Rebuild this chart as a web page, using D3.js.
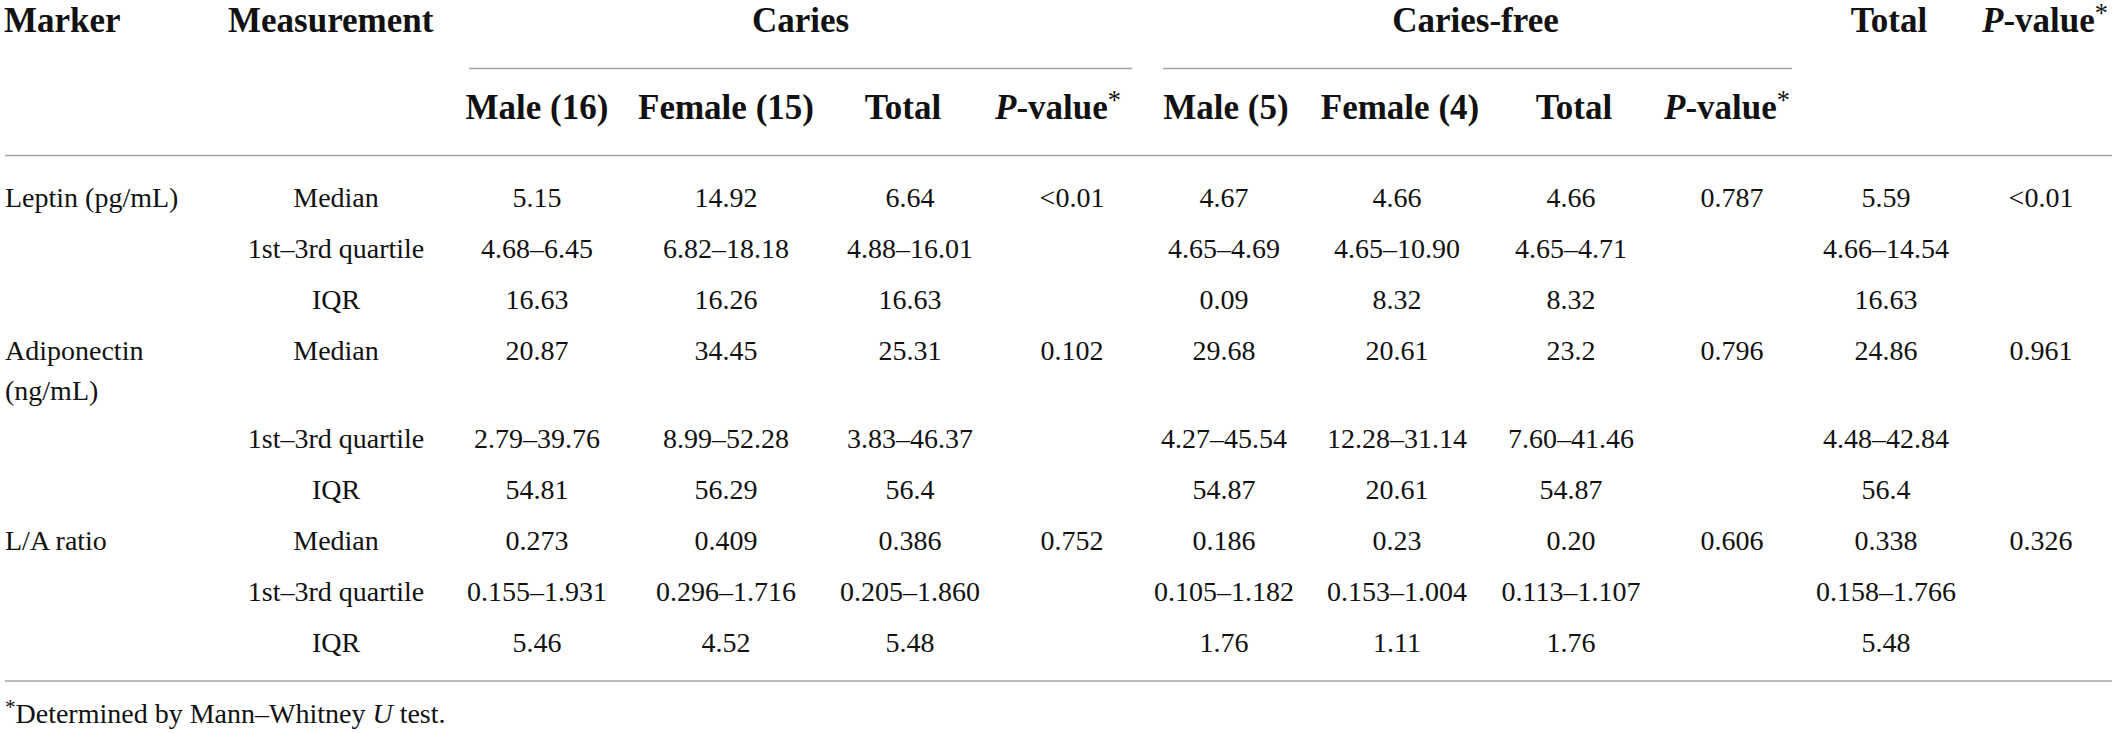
<!DOCTYPE html>
<html>
<head>
<meta charset="utf-8">
<script src="https://cdn.jsdelivr.net/npm/d3@7/dist/d3.min.js"></script>
<style>
  html, body { margin: 0; padding: 0; background: #fff; }
  svg { display: block; }
  text { font-family: "Liberation Serif", "Times New Roman", serif; fill: #111; }
</style>
</head>
<body>
<svg id="tbl" width="2117" height="733"></svg>
<script>
// ---------- DATA ----------
const groupHeaders = ["Caries", "Caries-free"];
const topHeaders = ["Marker", "Measurement", "Total", "P-value*"];
const subHeaders = ["Male (16)", "Female (15)", "Total", "P-value*", "Male (5)", "Female (4)", "Total", "P-value*"];
const markers = [["Leptin (pg/mL)"], ["Adiponectin", "(ng/mL)"], ["L/A ratio"]];
const measurements = ["Median", "1st\u20133rd quartile", "IQR"];

const cariesMale   = ["5.15", "4.68\u20136.45", "16.63", "20.87", "2.79\u201339.76", "54.81", "0.273", "0.155\u20131.931", "5.46"];
const cariesFemale = ["14.92", "6.82\u201318.18", "16.26", "34.45", "8.99\u201352.28", "56.29", "0.409", "0.296\u20131.716", "4.52"];
const cariesTotal  = ["6.64", "4.88\u201316.01", "16.63", "25.31", "3.83\u201346.37", "56.4", "0.386", "0.205\u20131.860", "5.48"];
const cariesP      = ["<0.01", "", "", "0.102", "", "", "0.752", "", ""];
const freeMale     = ["4.67", "4.65\u20134.69", "0.09", "29.68", "4.27\u201345.54", "54.87", "0.186", "0.105\u20131.182", "1.76"];
const freeFemale   = ["4.66", "4.65\u201310.90", "8.32", "20.61", "12.28\u201331.14", "20.61", "0.23", "0.153\u20131.004", "1.11"];
const freeTotal    = ["4.66", "4.65\u20134.71", "8.32", "23.2", "7.60\u201341.46", "54.87", "0.20", "0.113\u20131.107", "1.76"];
const freeP        = ["0.787", "", "", "0.796", "", "", "0.606", "", ""];
const allTotal     = ["5.59", "4.66\u201314.54", "16.63", "24.86", "4.48\u201342.84", "56.4", "0.338", "0.158\u20131.766", "5.48"];
const allP         = ["<0.01", "", "", "0.961", "", "", "0.326", "", ""];

const footnote = "Determined by Mann\u2013Whitney ";

// ---------- LAYOUT ----------
const svg = d3.select("#tbl");
const W = 2117;
const bodyFont = 28, headFont = 35;
const lineColor = "#a3a3a3";

const valueCols = [cariesMale, cariesFemale, cariesTotal, cariesP, freeMale, freeFemale, freeTotal, freeP, allTotal, allP];
const colKeys = d3.range(valueCols.length);
const colX = d3.scaleOrdinal().domain(colKeys)
  .range([537, 726, 910, 1072, 1224, 1397, 1571, 1732, 1886, 2041]);
const subHeadX = d3.scaleOrdinal().domain(d3.range(subHeaders.length))
  .range([537, 726, 903, 1058, 1226, 1400, 1574, 1727]);

// row centres: uniform step with extra room after the wrapped Adiponectin row
const rowBase = d3.scaleLinear().domain([0, 8]).range([198, 606]);
const rowY = i => rowBase(i) + (i >= 4 ? 37 : 0);
const base = c => c + bodyFont * 0.33;

// ---------- HEADERS ----------
const topY = 32;
svg.append("text").attr("x", 4).attr("y", topY).attr("font-size", headFont).attr("font-weight", "bold").text(topHeaders[0]);
svg.append("text").attr("x", 228).attr("y", topY).attr("font-size", headFont).attr("font-weight", "bold").text(topHeaders[1]);

const groupSpans = [[469, 1132], [1163, 1792]];
const gx = d3.scaleOrdinal().domain(groupHeaders).range(groupSpans);
svg.selectAll("text.grp").data(groupHeaders).join("text")
  .attr("class", "grp")
  .attr("x", d => (gx(d)[0] + gx(d)[1]) / 2 + (d === "Caries" ? 0 : -2))
  .attr("y", topY).attr("font-size", headFont).attr("font-weight", "bold")
  .attr("text-anchor", "middle").text(d => d);
svg.selectAll("line.grp").data(groupHeaders).join("line")
  .attr("class", "grp")
  .attr("x1", d => gx(d)[0]).attr("x2", d => gx(d)[1])
  .attr("y1", 68.5).attr("y2", 68.5)
  .attr("stroke", lineColor).attr("stroke-width", 1.3);

function pHeader(sel, x, y) {
  const t = sel.append("text").attr("x", x).attr("y", y).attr("font-size", headFont)
    .attr("font-weight", "bold").attr("text-anchor", "middle");
  t.append("tspan").attr("font-style", "italic").text("P");
  t.append("tspan").text("-value");
  t.append("tspan").attr("font-weight", "normal").attr("font-size", headFont * 0.75)
    .attr("dy", -10).text("*");
  return t;
}

svg.append("text").attr("x", 1889).attr("y", topY).attr("font-size", headFont)
  .attr("font-weight", "bold").attr("text-anchor", "middle").text(topHeaders[2]);
pHeader(svg, 2045, topY);

const subY = 119;
subHeaders.forEach((h, i) => {
  if (h === "P-value*") pHeader(svg, subHeadX(i), subY);
  else svg.append("text").attr("x", subHeadX(i)).attr("y", subY).attr("font-size", headFont)
    .attr("font-weight", "bold").attr("text-anchor", "middle").text(h);
});

// rules
svg.append("line").attr("x1", 5).attr("x2", 2112).attr("y1", 155.5).attr("y2", 155.5)
  .attr("stroke", lineColor).attr("stroke-width", 1.4);
svg.append("line").attr("x1", 5).attr("x2", 2112).attr("y1", 681).attr("y2", 681)
  .attr("stroke", lineColor).attr("stroke-width", 1.4);

// ---------- BODY ----------
const rows = d3.range(markers.length * measurements.length);

// marker labels
markers.forEach((m, mi) => {
  const t = svg.append("text").attr("x", 5).attr("y", base(rowY(mi * 3))).attr("font-size", bodyFont);
  m.forEach((ln, li) => t.append("tspan").attr("x", 5).attr("dy", li === 0 ? 0 : 40).text(ln));
});

// measurement labels
svg.selectAll("text.meas").data(rows).join("text")
  .attr("class", "meas")
  .attr("x", 336).attr("y", r => base(rowY(r)))
  .attr("font-size", bodyFont).attr("text-anchor", "middle")
  .text(r => measurements[r % 3]);

// values
valueCols.forEach((col, ci) => {
  svg.selectAll("text.v" + ci).data(col.map((v, r) => ({ v, r })).filter(d => d.v !== "")).join("text")
    .attr("class", "v" + ci)
    .attr("x", colX(ci)).attr("y", d => base(rowY(d.r)))
    .attr("font-size", bodyFont).attr("text-anchor", "middle")
    .text(d => d.v);
});

// ---------- FOOTNOTE ----------
const fn = svg.append("text").attr("x", 5).attr("y", 723).attr("font-size", bodyFont);
fn.append("tspan").attr("font-size", bodyFont * 0.75).attr("dy", -9).text("*");
fn.append("tspan").attr("dy", 9).text(footnote);
fn.append("tspan").attr("font-style", "italic").text("U");
fn.append("tspan").text(" test.");
</script>
</body>
</html>
